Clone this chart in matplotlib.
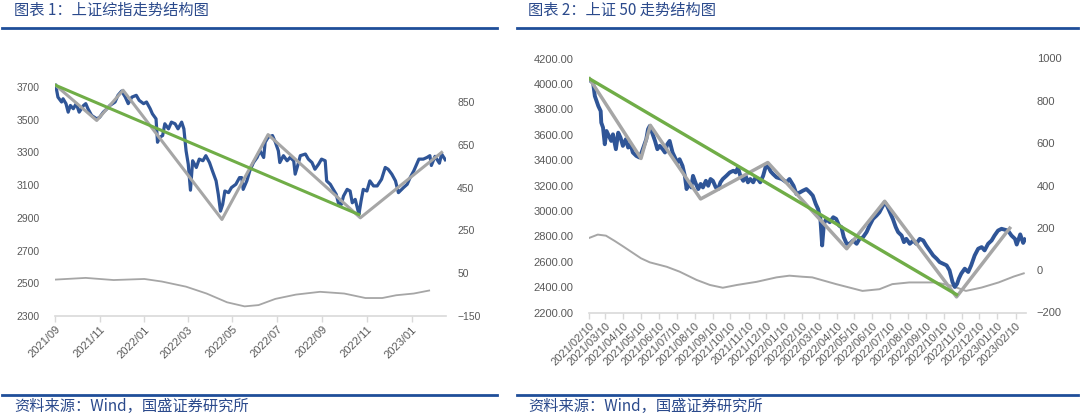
import pandas as pd
import matplotlib
matplotlib.use("Agg")
import matplotlib.pyplot as plt
import matplotlib.dates as mdates
from matplotlib.lines import Line2D
from matplotlib.ticker import FuncFormatter

plt.rcParams['font.family'] = ['Liberation Sans', 'Noto Sans CJK SC', 'DejaVu Sans']

# ---- left chart: SSE composite (days counted from sh_start) ----
sh_start = "2021-09-01"
sh_days = [1, 4, 9, 11, 15, 18, 21, 25, 29, 33,
           39, 42, 45, 50, 57, 61, 66, 71, 75, 82,
           86, 91, 96, 100, 105, 111, 115, 121, 125, 130,
           133, 138, 140, 143, 147, 150, 155, 159, 164, 168,
           173, 176, 179, 182, 185, 188, 193, 197, 202, 206,
           211, 215, 220, 223, 226, 229, 232, 237, 241, 247,
           252, 255, 257, 262, 266, 271, 276, 280, 285, 287,
           291, 297, 301, 305, 307, 312, 317, 321, 326, 328,
           332, 335, 342, 346, 351, 355, 360, 364, 369, 371,
           376, 380, 384, 387, 391, 394, 399, 403, 406, 410,
           414, 415, 418, 421, 426, 430, 435, 440, 446, 451,
           455, 460, 465, 469, 476, 481, 485, 490, 497, 503,
           508, 512, 514, 519, 525, 528, 533]
sh_close = [3710, 3638, 3608, 3628, 3598, 3546, 3587, 3567, 3598, 3546,
            3587, 3598, 3567, 3526, 3505, 3515, 3546, 3567, 3587, 3608,
            3649, 3675, 3638, 3598, 3638, 3649, 3618, 3598, 3608, 3567,
            3536, 3505, 3362, 3392, 3403, 3475, 3444, 3485, 3475, 3444,
            3485, 3444, 3310, 3228, 3069, 3249, 3208, 3259, 3249, 3280,
            3238, 3187, 3126, 3044, 2941, 2982, 3064, 3054, 3085, 3105,
            3146, 3146, 3074, 3126, 3187, 3238, 3269, 3310, 3269, 3362,
            3392, 3403, 3362, 3310, 3238, 3280, 3249, 3269, 3249, 3167,
            3228, 3280, 3290, 3259, 3238, 3197, 3228, 3259, 3249, 3126,
            3105, 3074, 3044, 2992, 2982, 3033, 3074, 3064, 2992, 3013,
            2941, 2920, 3003, 3074, 3064, 3126, 3095, 3095, 3136, 3208,
            3197, 3167, 3126, 3054, 3085, 3105, 3146, 3187, 3259, 3259,
            3269, 3280, 3220, 3276, 3234, 3290, 3255]
sh_zig_days = [1, 57, 93, 228, 291, 417, 528]
sh_zig = [3710, 3495, 3680, 2890, 3409, 2900, 3300]
sh_trend_days = [1, 415]
sh_trend = [3710, 2920]
sh_osc_days = [0, 42, 80, 122, 146, 179, 207, 235, 259, 278,
               301, 329, 362, 395, 424, 447, 466, 490, 511]
sh_osc = [20, 28, 18, 23, 11, -13, -45, -86, -105, -99,
          -70, -50, -37, -45, -66, -66, -53, -45, -31]
sh_end_day = 534

# ---- right chart: SSE 50 (days counted from sz50_start) ----
sz50_start = "2021-02-10"
sz50_days = [1, 7, 10, 16, 20, 21, 24, 27, 30, 34,
             38, 41, 46, 50, 54, 58, 63, 67, 71, 75,
             81, 86, 90, 94, 98, 101, 104, 109, 113, 117,
             121, 126, 130, 134, 138, 143, 147, 151, 155, 160,
             164, 167, 171, 175, 178, 183, 187, 191, 195, 200,
             204, 208, 212, 217, 221, 225, 229, 235, 241, 247,
             251, 255, 259, 264, 268, 272, 276, 281, 285, 289,
             293, 298, 302, 306, 311, 315, 321, 330, 338, 343,
             350, 355, 361, 366, 372, 378, 383, 388, 392, 396,
             399, 402, 406, 412, 418, 423, 428, 432, 436, 441,
             446, 452, 458, 463, 469, 475, 480, 486, 492, 497,
             503, 506, 510, 515, 520, 525, 529, 535, 539, 543,
             549, 555, 560, 566, 572, 577, 583, 589, 595, 600,
             606, 612, 617, 622, 626, 630, 633, 637, 643, 649,
             654, 660, 666, 672, 677, 683, 689, 694, 700, 706,
             711, 717, 723, 729, 732, 738, 743, 746]
sz50_close = [4030, 4009, 3904, 3825, 3786, 3695, 3656, 3525, 3629, 3590,
              3551, 3603, 3486, 3616, 3577, 3512, 3564, 3499, 3525, 3460,
              3433, 3421, 3460, 3512, 3564, 3643, 3669, 3603, 3551, 3486,
              3512, 3486, 3460, 3525, 3551, 3460, 3421, 3382, 3407, 3355,
              3276, 3172, 3225, 3185, 3276, 3212, 3172, 3212, 3185, 3237,
              3198, 3251, 3237, 3185, 3172, 3225, 3251, 3276, 3303, 3316,
              3303, 3342, 3276, 3237, 3276, 3225, 3251, 3225, 3264, 3251,
              3225, 3276, 3342, 3355, 3310, 3290, 3264, 3251, 3225, 3251,
              3198, 3133, 3146, 3159, 3172, 3146, 3120, 3055, 3015, 2937,
              2728, 2898, 2937, 2911, 2950, 2937, 2884, 2872, 2793, 2741,
              2741, 2767, 2741, 2780, 2793, 2833, 2884, 2937, 2963, 2989,
              3041, 3068, 3041, 2989, 2937, 2872, 2833, 2806, 2754, 2780,
              2741, 2767, 2741, 2780, 2767, 2728, 2689, 2649, 2623, 2597,
              2584, 2571, 2532, 2441, 2401, 2427, 2467, 2506, 2545, 2519,
              2571, 2649, 2702, 2715, 2689, 2741, 2767, 2806, 2845, 2859,
              2853, 2845, 2806, 2780, 2735, 2815, 2748, 2775]
sz50_zig_days = [1, 89, 105, 191, 306, 441, 506, 629, 720]
sz50_zig = [4040, 3413, 3674, 3094, 3381, 2702, 3076, 2323, 2864]
sz50_trend_days = [1, 629]
sz50_trend = [4040, 2341]
sz50_osc_days = [0, 15, 29, 44, 58, 89, 104, 133, 155, 184,
                 207, 229, 253, 287, 321, 343, 365, 382, 423, 468,
                 497, 519, 548, 594, 621, 645, 672, 701, 727, 744]
sz50_osc = [152, 168, 163, 138, 113, 56, 37, 16, -7, -46,
            -70, -83, -70, -55, -34, -26, -31, -34, -66, -98,
            -90, -66, -58, -58, -74, -98, -82, -58, -30, -15]
sz50_end_day = 747

titles = ["图表 1：上证综指走势结构图", "图表 2：上证 50 走势结构图"]
source = "资料来源：Wind，国盛证券研究所"

BLUE = "#2F5597"
GREY = "#A6A6A6"
GREEN = "#70AD47"
TICK = "#595959"
AXIS = "#D9D9D9"
TITLE = "#2B4A8C"
RULE = "#1F4E99"


def to_dates(start, days):
    return pd.to_datetime(start) + pd.to_timedelta(days, unit="D")


def style_axes(ax, ax2, size, xsize):
    for a in (ax, ax2):
        for s in ("top", "left", "right", "bottom"):
            a.spines[s].set_visible(False)
    ax.spines["bottom"].set_visible(True)
    ax.spines["bottom"].set_color(AXIS)
    ax.spines["bottom"].set_linewidth(1.2)
    ax.tick_params(axis="x", colors=AXIS, length=4, width=1, labelcolor=TICK,
                   labelsize=xsize, pad=2)
    ax.tick_params(axis="y", length=0, labelcolor=TICK, labelsize=size, pad=11)
    ax2.tick_params(axis="y", length=0, labelcolor=TICK, labelsize=size, pad=8)
    for lbl in ax.get_xticklabels():
        lbl.set_rotation(45)
        lbl.set_ha("right")
        lbl.set_rotation_mode("anchor")


fig = plt.figure(figsize=(10.8, 4.17), dpi=100)

# left panel
ax = fig.add_axes([55 / 1080, 1 - 316 / 417, 391 / 1080, 257.5 / 417])
ax2 = ax.twinx()
ax.plot(to_dates(sh_start, sh_days), sh_close, color=BLUE, lw=2.3, zorder=2)
ax2.plot(to_dates(sh_start, sh_osc_days), sh_osc, color=GREY, lw=1.3)
ax.plot(to_dates(sh_start, sh_zig_days), sh_zig, color=GREY, lw=2.2, zorder=3)
ax.plot(to_dates(sh_start, sh_trend_days), sh_trend, color=GREEN, lw=2.2, zorder=4)
ax.set_zorder(ax2.get_zorder() + 1)
ax.patch.set_visible(False)
ax.set_xlim(pd.to_datetime(sh_start), to_dates(sh_start, [sh_end_day])[0])
ax.set_ylim(2300, 3874)
ax.set_yticks(range(2300, 3701, 200))
ax2.set_ylim(-150, 1053)
ax2.set_yticks(range(-150, 851, 200))
ax.xaxis.set_major_locator(mdates.MonthLocator(bymonth=[1, 3, 5, 7, 9, 11]))
ax.xaxis.set_major_formatter(mdates.DateFormatter("%Y/%m"))
style_axes(ax, ax2, 7.5, 8)

# right panel
bx = fig.add_axes([589 / 1080, 1 - 312.5 / 417, 436.5 / 1080, 254 / 417])
bx2 = bx.twinx()
bx.plot(to_dates(sz50_start, sz50_days), sz50_close, color=BLUE, lw=2.8, zorder=2)
bx2.plot(to_dates(sz50_start, sz50_osc_days), sz50_osc, color=GREY, lw=1.4)
bx.plot(to_dates(sz50_start, sz50_zig_days), sz50_zig, color=GREY, lw=2.5, zorder=3)
bx.plot(to_dates(sz50_start, sz50_trend_days), sz50_trend, color=GREEN, lw=2.4, zorder=4)
bx.set_zorder(bx2.get_zorder() + 1)
bx.patch.set_visible(False)
bx.set_xlim(pd.to_datetime(sz50_start), to_dates(sz50_start, [sz50_end_day])[0])
bx.set_ylim(2200, 4200)
bx.set_yticks(range(2200, 4201, 200))
bx.yaxis.set_major_formatter(FuncFormatter(lambda v, p: f"{v:.2f}"))
bx2.set_ylim(-200, 1000)
bx2.set_yticks(range(-200, 1001, 200))
bx.xaxis.set_major_locator(mdates.MonthLocator(bymonthday=10))
bx.xaxis.set_major_formatter(mdates.DateFormatter("%Y/%m/%d"))
style_axes(bx, bx2, 8, 8)

# titles, rules and source notes
for x0, x1, title in [(2, 497, titles[0]), (517, 1078, titles[1])]:
    tx = x0 + 12 if x0 < 100 else x0 + 11
    fig.text(tx / 1080, 1 - 10 / 417, title, family=["Noto Sans CJK SC", "DejaVu Sans"],
             fontsize=11, color=TITLE, va="center", ha="left", style="italic")
    fig.add_artist(Line2D([x0 / 1080, x1 / 1080], [1 - 27.5 / 417] * 2,
                          color=RULE, lw=2))
    fig.add_artist(Line2D([x0 / 1080, x1 / 1080], [1 - 395 / 417] * 2,
                          color=RULE, lw=2))
    fig.text(tx / 1080, 1 - 406 / 417, source, family=["Noto Sans CJK SC", "DejaVu Sans"],
             fontsize=11, color=TITLE, va="center", ha="left", style="italic")

fig.savefig("out.png", dpi=100)
